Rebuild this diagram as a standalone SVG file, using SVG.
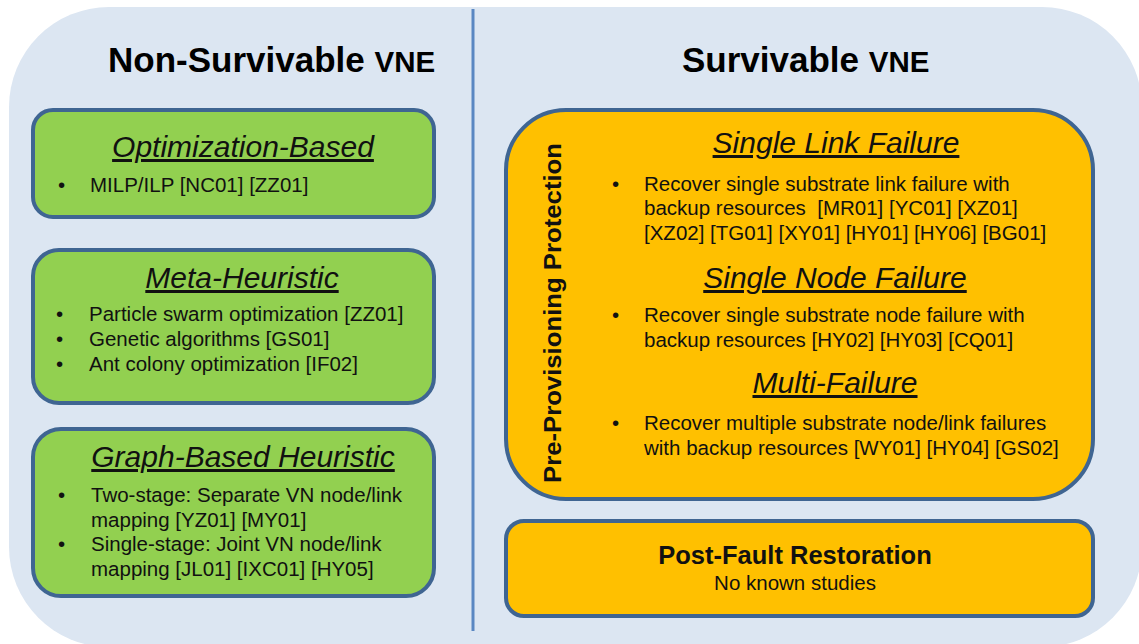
<svg xmlns="http://www.w3.org/2000/svg" width="1139" height="644" viewBox="0 0 1139 644">
  <style>
    .bg { fill: #dce6f2; }
    .divider { stroke: #5a87c2; stroke-width: 3; }
    .green { fill: #92d050; stroke: #3f6592; stroke-width: 4; }
    .orange { fill: #ffc000; stroke: #3f6592; stroke-width: 4; }
    .title { font-family: "Liberation Sans", Arial, sans-serif; font-weight: bold; font-size: 35px; fill: #000; }
    .title .sc { font-size: 29.5px; }
    .head { font-family: "Liberation Sans", Arial, sans-serif; font-style: italic; font-size: 30px; fill: #111; text-anchor: middle; text-decoration: underline; }
    .body { font-family: "Liberation Sans", Arial, sans-serif; font-size: 20.5px; fill: #111; }
    .side { font-family: "Liberation Sans", Arial, sans-serif; font-weight: bold; font-size: 23px; fill: #111; text-anchor: middle; }
    .bold { font-family: "Liberation Sans", Arial, sans-serif; font-weight: bold; font-size: 25.5px; fill: #111; text-anchor: middle; }
    .mid { text-anchor: middle; }
  </style>

  <!-- backdrop panel and column divider -->
  <rect class="bg" x="9" y="7" width="1133" height="640" rx="100" ry="100"/>
  <g id="connectors">
    <line class="divider" x1="473" y1="9" x2="473" y2="631"/>
  </g>

  <!-- column titles -->
  <g id="title-non-survivable">
    <text class="title" x="108" y="72">Non-Survivable <tspan class="sc">VNE</tspan></text>
  </g>
  <g id="title-survivable">
    <text class="title" x="682" y="72">Survivable <tspan class="sc">VNE</tspan></text>
  </g>

  <!-- non-survivable approaches -->
  <g id="optimization-based">
    <rect class="green" x="33" y="110" width="401" height="107" rx="20" ry="20"/>
    <text class="head" x="243" y="157">Optimization-Based</text>
    <text class="body" x="58" y="192">•</text>
    <text class="body" x="90" y="192">MILP/ILP [NC01] [ZZ01]</text>
  </g>

  <g id="meta-heuristic">
    <rect class="green" x="33" y="250" width="401" height="153" rx="26" ry="26"/>
    <text class="head" x="242" y="288">Meta-Heuristic</text>
    <text class="body" x="56" y="321">•</text>
    <text class="body" x="89" y="321">Particle swarm optimization [ZZ01]</text>
    <text class="body" x="56" y="346">•</text>
    <text class="body" x="89" y="346">Genetic algorithms [GS01]</text>
    <text class="body" x="56" y="371">•</text>
    <text class="body" x="89" y="371">Ant colony optimization [IF02]</text>
  </g>

  <g id="graph-based-heuristic">
    <rect class="green" x="33" y="429" width="401" height="167" rx="28" ry="28"/>
    <text class="head" x="243" y="467">Graph-Based Heuristic</text>
    <text class="body" x="58" y="502">•</text>
    <text class="body" x="91" y="502">Two-stage: Separate VN node/link</text>
    <text class="body" x="91" y="527">mapping [YZ01] [MY01]</text>
    <text class="body" x="58" y="551">•</text>
    <text class="body" x="91" y="551">Single-stage: Joint VN node/link</text>
    <text class="body" x="91" y="576">mapping [JL01] [IXC01] [HY05]</text>
  </g>

  <!-- survivable approaches -->
  <g id="pre-provisioning-protection">
    <rect class="orange" x="506" y="110" width="587" height="389" rx="60" ry="60"/>
    <text class="side" transform="translate(561 313) rotate(-90)" textLength="340" lengthAdjust="spacingAndGlyphs">Pre-Provisioning Protection</text>

    <text class="head" x="836" y="153">Single Link Failure</text>
    <text class="body" x="612" y="191">•</text>
    <text class="body" x="644" y="191">Recover single substrate link failure with</text>
    <text class="body" x="644" y="215">backup resources &#160;[MR01] [YC01] [XZ01]</text>
    <text class="body" x="644" y="240">[XZ02] [TG01] [XY01] [HY01] [HY06] [BG01]</text>

    <text class="head" x="835" y="288">Single Node Failure</text>
    <text class="body" x="612" y="322">•</text>
    <text class="body" x="644" y="322">Recover single substrate node failure with</text>
    <text class="body" x="644" y="347">backup resources [HY02] [HY03] [CQ01]</text>

    <text class="head" x="835" y="393">Multi-Failure</text>
    <text class="body" x="612" y="430">•</text>
    <text class="body" x="644" y="430">Recover multiple substrate node/link failures</text>
    <text class="body" x="644" y="455">with backup resources [WY01] [HY04] [GS02]</text>
  </g>

  <g id="post-fault-restoration">
    <rect class="orange" x="506" y="521" width="587" height="95" rx="18" ry="18"/>
    <text class="bold" x="795" y="564">Post-Fault Restoration</text>
    <text class="body mid" x="795" y="590">No known studies</text>
  </g>
</svg>
